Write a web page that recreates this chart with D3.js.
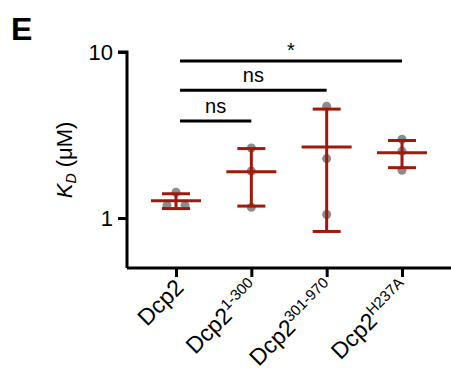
<!DOCTYPE html>
<html><head><meta charset="utf-8">
<script src="https://cdn.jsdelivr.net/npm/d3@7"></script>
<style>body{margin:0;background:#fff}svg{display:block}text{font-family:"Liberation Sans",Arial,sans-serif}</style>
</head><body><svg id="c" width="451" height="370"></svg>
<script>
const categories = ["Dcp2", "Dcp2", "Dcp2", "Dcp2"];
const superscripts = ["", "1-300", "301-970", "H237A"];
const means = [1.27, 1.90, 2.68, 2.47];
const sds = [0.13, 0.72, 1.85, 0.46];
const points = [[1.43, 1.19, 1.19], [2.64, 1.92, 1.16], [4.71, 2.28, 1.05], [2.98, 2.53, 1.94]];
const yTicks = [1, 10];
const comparisons = [[0, 1, "ns", 3.84], [0, 2, "ns", 5.88], [0, 3, "*", 8.83]];

const svg = d3.select("#c");
const red = "#a0180a";
const y = d3.scaleLog().domain([0.5, 10]).range([268, 52]);
const x = d3.scalePoint().domain(d3.range(categories.length)).range([176, 402]);

// panel letter
svg.append("text").attr("x", 11).attr("y", 40).attr("font-size", 32).attr("font-weight", "bold").text("E");

// y axis
const ya = svg.append("g").attr("transform", "translate(127,0)")
  .call(d3.axisLeft(y).tickValues(yTicks).tickFormat(d3.format("d")).tickSize(9).tickPadding(5));
ya.select(".domain").attr("d", `M-9,${y(10)}H0V${y(0.5)}`).attr("stroke-width", 3);
ya.selectAll(".tick line").attr("stroke-width", 3);
ya.selectAll(".tick text").attr("font-size", 22).attr("font-family", "Liberation Sans, Arial, sans-serif").attr("fill", "#000");

// y label
const yl = svg.append("text").attr("transform", "translate(72,160) rotate(-90)").attr("text-anchor", "middle").attr("font-size", 22);
yl.append("tspan").attr("font-style", "italic").text("K");
yl.append("tspan").attr("font-style", "italic").attr("font-size", 14).attr("dy", 4).text("D");
yl.append("tspan").attr("dy", -4).text(" (μM)");

// x axis
const xa = svg.append("g").attr("transform", "translate(0,268)")
  .call(d3.axisBottom(x).tickSize(9).tickFormat(""));
xa.select(".domain").attr("d", "M127,0H451").attr("stroke-width", 3);
xa.selectAll(".tick line").attr("stroke-width", 3);

// x labels
categories.forEach((c, i) => {
  const hasSup = !!superscripts[i];
  const t = svg.append("text").attr("transform", `translate(${x(i) + 9},${hasSup ? 290 : 289}) rotate(-45)`)
    .attr("text-anchor", "end").attr("font-size", 23);
  t.append("tspan").text(c);
  if (hasSup) t.append("tspan").attr("font-size", 15).attr("dy", -9).text(superscripts[i]);
});

// points
const jit = (arr, j) => {
  const v = arr[j];
  const close = arr.map((w, k) => k !== j && Math.abs(w - v) / v < 0.03 ? k : -1).filter(k => k >= 0);
  if (!close.length) return 0;
  return j < close[0] ? -9 : 9;
};
points.forEach((arr, i) => {
  svg.append("g").selectAll("circle").data(arr).join("circle")
    .attr("cx", (d, j) => x(i) + jit(arr, j)).attr("cy", d => y(d)).attr("r", 4.5).attr("fill", "#8c8c8c");
});

// error bars
means.forEach((m, i) => {
  const g = svg.append("g").attr("stroke", red).attr("stroke-width", 3);
  const cx = x(i);
  g.append("line").attr("x1", cx).attr("x2", cx).attr("y1", y(m + sds[i])).attr("y2", y(m - sds[i]));
  g.append("line").attr("x1", cx - 25).attr("x2", cx + 25).attr("y1", y(m)).attr("y2", y(m));
  [m + sds[i], m - sds[i]].forEach(v => g.append("line").attr("x1", cx - 14).attr("x2", cx + 14).attr("y1", y(v)).attr("y2", y(v)));
});

// significance bars
comparisons.forEach(([a, b, lab, v]) => {
  svg.append("line").attr("x1", x(a) + 4).attr("x2", x(b)).attr("y1", y(v)).attr("y2", y(v))
    .attr("stroke", "#000").attr("stroke-width", 3);
  svg.append("text").attr("x", (x(a) + 4 + x(b)) / 2).attr("y", y(v) - (lab === "*" ? 4 : 8))
    .attr("text-anchor", "middle").attr("font-size", 20).text(lab);
});
</script></body></html>
